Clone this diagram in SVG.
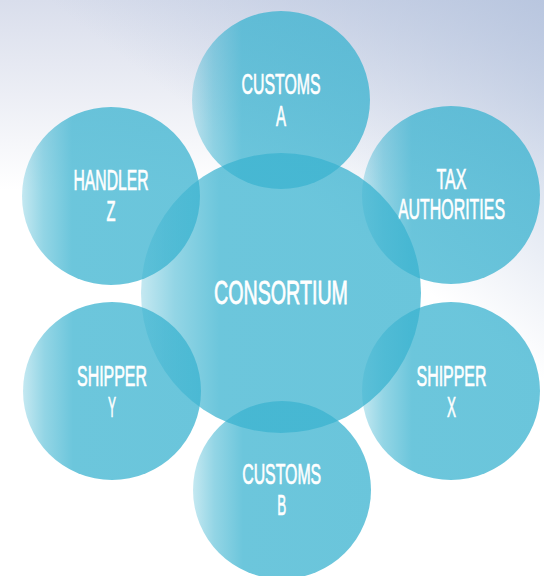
<svg xmlns="http://www.w3.org/2000/svg" width="544" height="576" viewBox="0 0 544 576">
  <defs>
    <linearGradient id="bgV" x1="0" y1="0" x2="0" y2="190" gradientUnits="userSpaceOnUse">
      <stop offset="0" stop-color="#d9deec"/>
      <stop offset="0.5" stop-color="#eceef5"/>
      <stop offset="1" stop-color="#ffffff"/>
    </linearGradient>
    <linearGradient id="bgD" x1="544" y1="0" x2="360" y2="240" gradientUnits="userSpaceOnUse">
      <stop offset="0" stop-color="#b3c2dd" stop-opacity="0.85"/>
      <stop offset="1" stop-color="#b3c2dd" stop-opacity="0"/>
    </linearGradient>
    <linearGradient id="circ" x1="0" y1="0" x2="1" y2="0">
      <stop offset="0" stop-color="#3bb3d0" stop-opacity="0.3"/>
      <stop offset="0.12" stop-color="#3bb3d0" stop-opacity="0.55"/>
      <stop offset="0.28" stop-color="#3bb3d0" stop-opacity="0.75"/>
      <stop offset="1" stop-color="#3bb3d0" stop-opacity="0.76"/>
    </linearGradient>
    <style>
      .c { fill: url(#circ); }
      .t { fill: #ffffff; stroke: #ffffff; stroke-width: 0.7px; font-family: "Liberation Sans", Arial, sans-serif; font-weight: normal; font-size: 29px; text-anchor: middle; }
      .big { font-size: 34px; stroke-width: 0.8px; }
    </style>
  </defs>
  <rect x="0" y="0" width="544" height="576" fill="#ffffff"/>
  <rect x="0" y="0" width="544" height="260" fill="url(#bgV)"/>
  <rect x="0" y="0" width="544" height="576" fill="url(#bgD)"/>

  <g id="customs-a">
    <circle class="c" cx="281" cy="100" r="89"/>
    <text class="t" x="281" y="94" textLength="79" lengthAdjust="spacingAndGlyphs">CUSTOMS</text>
    <text class="t" x="281" y="126" textLength="10" lengthAdjust="spacingAndGlyphs">A</text>
  </g>
  <g id="handler-z">
    <circle class="c" cx="111" cy="196" r="89"/>
    <text class="t" x="111" y="190" textLength="75" lengthAdjust="spacingAndGlyphs">HANDLER</text>
    <text class="t" x="111" y="221" textLength="9" lengthAdjust="spacingAndGlyphs">Z</text>
  </g>
  <g id="tax-authorities">
    <circle class="c" cx="451" cy="195" r="89"/>
    <text class="t" x="451.5" y="189" textLength="30" lengthAdjust="spacingAndGlyphs">TAX</text>
    <text class="t" x="451.5" y="219" textLength="107" lengthAdjust="spacingAndGlyphs">AUTHORITIES</text>
  </g>
  <g id="shipper-y">
    <circle class="c" cx="112" cy="391" r="89"/>
    <text class="t" x="112" y="386" textLength="70" lengthAdjust="spacingAndGlyphs">SHIPPER</text>
    <text class="t" x="112" y="417" textLength="8" lengthAdjust="spacingAndGlyphs">Y</text>
  </g>
  <g id="shipper-x">
    <circle class="c" cx="451" cy="391" r="89"/>
    <text class="t" x="451.5" y="386" textLength="70" lengthAdjust="spacingAndGlyphs">SHIPPER</text>
    <text class="t" x="451.5" y="417" textLength="9" lengthAdjust="spacingAndGlyphs">X</text>
  </g>
  <g id="customs-b">
    <circle class="c" cx="282" cy="490" r="89"/>
    <text class="t" x="281.7" y="484" textLength="79" lengthAdjust="spacingAndGlyphs">CUSTOMS</text>
    <text class="t" x="281.7" y="515" textLength="9" lengthAdjust="spacingAndGlyphs">B</text>
  </g>
  <g id="consortium">
    <circle class="c" cx="281" cy="293" r="140"/>
    <text class="t big" x="281" y="304" textLength="134" lengthAdjust="spacingAndGlyphs">CONSORTIUM</text>
  </g>
  <g id="connectors"></g>
</svg>
